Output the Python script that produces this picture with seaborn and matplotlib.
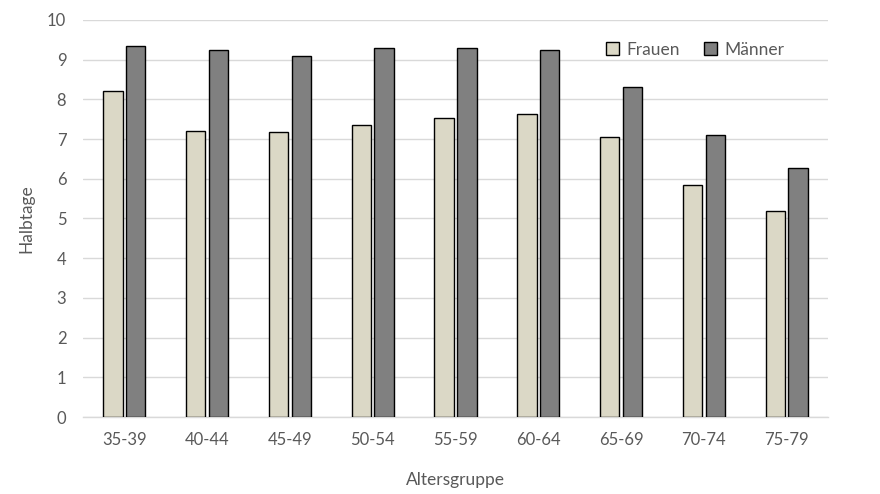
import matplotlib
matplotlib.use("Agg")
import matplotlib.pyplot as plt
import seaborn as sns
import pandas as pd

groups = ["35-39", "40-44", "45-49", "50-54", "55-59", "60-64", "65-69", "70-74", "75-79"]
frauen = [8.22, 7.21, 7.17, 7.36, 7.53, 7.63, 7.06, 5.84, 5.19]
maenner = [9.35, 9.24, 9.10, 9.30, 9.29, 9.24, 8.32, 7.10, 6.26]
series = ["Frauen", "Männer"]
colors = ["#DEDAC3", "#808080"]

df = pd.DataFrame({
    "Altersgruppe": groups * 2,
    "Halbtage": frauen + maenner,
    "Geschlecht": [series[0]] * len(groups) + [series[1]] * len(groups),
})

sns.set_theme(style="white")
plt.rcParams["font.family"] = ["Lato", "DejaVu Sans"]
text_color = "#595959"

fig = plt.figure(figsize=(8.8, 4.94), dpi=100)
ax = fig.add_axes([83 / 880, 1 - 417 / 494, (828 - 83) / 880, (417 - 20) / 494])

sns.barplot(data=df, x="Altersgruppe", y="Halbtage", hue="Geschlecht",
            palette=colors, width=0.55, gap=0.15, edgecolor="black",
            linewidth=1.0, ax=ax, zorder=3)

ax.set_ylim(0, 10)
ax.set_xlim(-0.5, len(groups) - 0.5)
ax.set_yticks(range(0, 11))
ax.yaxis.grid(True, color="#D9D9D9", linewidth=1.0, zorder=0)
ax.set_axisbelow(True)
for s in ["top", "right", "left"]:
    ax.spines[s].set_visible(False)
ax.spines["bottom"].set_color("#D9D9D9")
ax.spines["bottom"].set_linewidth(1.0)
ax.tick_params(axis="both", length=0, labelsize=12, colors=text_color)
ax.tick_params(axis="x", pad=11)
ax.tick_params(axis="y", pad=12)
ax.set_xlabel("Altersgruppe", fontsize=12.5, color=text_color, labelpad=17)
ax.set_ylabel("Halbtage", fontsize=12.5, color=text_color, labelpad=9)

leg = ax.legend(loc="upper right", bbox_to_anchor=(0.962, 0.985), ncol=2, frameon=False,
                fontsize=12.5, handlelength=0.75, handleheight=0.75, handletextpad=0.4,
                columnspacing=1.4, labelcolor=text_color)

fig.savefig("out.png", dpi=100)
